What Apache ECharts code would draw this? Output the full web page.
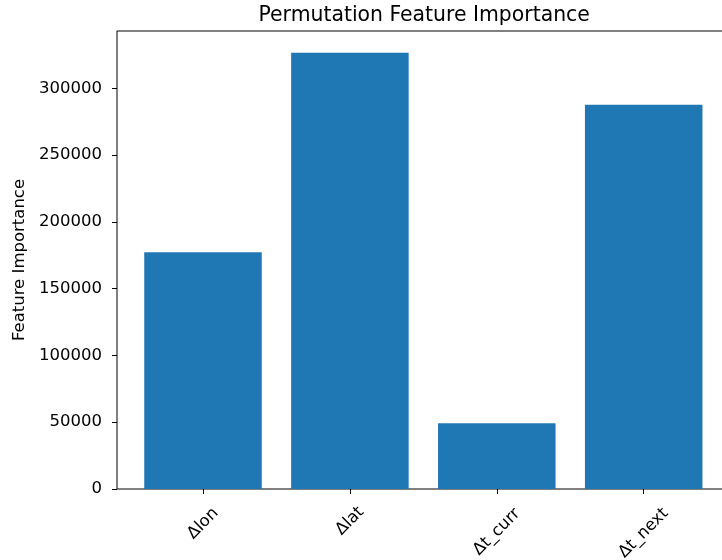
<!DOCTYPE html>
<html>
<head>
<meta charset="utf-8">
<title>Permutation Feature Importance</title>
<script src="https://cdn.jsdelivr.net/npm/echarts@6/dist/echarts.min.js"></script>
<style>
  html, body { margin: 0; padding: 0; background: #fff; }
  #chart { width: 722px; height: 560px; }
</style>
</head>
<body>
<div id="chart"></div>
<script>
// data
var features = ['Δlon', 'Δlat', 'Δt_curr', 'Δt_next'];
var importance = [177200, 326700, 49200, 287700];
var yTicks = [0, 50000, 100000, 150000, 200000, 250000, 300000];
var yMax = 342900;

// matplotlib centres rotated labels under the tick, so longer ones sit lower (px)
var labelDrop = [2.5, 0, 11, 12];

var font = 'DejaVu Sans';
var chart = echarts.init(document.getElementById('chart'));

// a thin empty first line pushes the text down along its own "down" direction,
// right padding pulls it back along the text, net effect is a straight drop
var rich = { t: { fontFamily: font, fontSize: 16.5, color: '#000' } };
var xData = [];
for (var i = 0; i < features.length; i++) {
  var k = labelDrop[i] * Math.SQRT2;
  rich['s' + i] = { fontSize: 1, lineHeight: k };
  xData.push({
    value: features[i],
    textStyle: { align: 'center', verticalAlign: 'middle', padding: [0, k, 0, 0] }
  });
}

chart.setOption({
  animation: false,
  title: {
    text: 'Permutation Feature Importance',
    left: 253.5,
    top: 1,
    textStyle: { fontFamily: font, fontSize: 20.4, fontWeight: 'normal', color: '#000' }
  },
  grid: [
    // frame (spines) + y axis
    { left: 117, top: 31, right: -9, bottom: 71, containLabel: false, outerBoundsMode: 'none',
      show: true, borderColor: '#000', borderWidth: 1, backgroundColor: 'transparent' },
    // bars
    { left: 129.55, top: 31, right: 4.85, bottom: 71, containLabel: false, outerBoundsMode: 'none' }
  ],
  xAxis: [
    { gridIndex: 0, type: 'value', show: false, min: 0, max: 1 },
    {
      gridIndex: 1,
      type: 'category',
      data: xData,
      boundaryGap: true,
      axisLine: { show: false },
      axisTick: { show: true, alignWithLabel: true, length: 5, lineStyle: { color: '#000', width: 1 } },
      axisLabel: {
        interval: 0,
        rotate: 45,
        margin: 32,
        fontFamily: font,
        fontSize: 16.5,
        color: '#000',
        rich: rich,
        formatter: function (value, index) {
          if (labelDrop[index] > 0) {
            return '{s' + index + '| }\n{t|' + value + '}';
          }
          return '{t|' + value + '}';
        }
      },
      splitLine: { show: false }
    }
  ],
  yAxis: [
    {
      gridIndex: 0,
      type: 'value',
      min: 0,
      max: yMax,
      name: 'Feature Importance',
      nameLocation: 'middle',
      nameGap: 86,
      nameTextStyle: { fontFamily: font, fontSize: 16.5, color: '#000' },
      axisLine: { show: false },
      axisTick: { show: true, length: 5, customValues: yTicks, lineStyle: { color: '#000', width: 1 } },
      axisLabel: {
        customValues: yTicks,
        margin: 15,
        fontFamily: font,
        fontSize: 16.5,
        color: '#000',
        formatter: function (v) { return String(v); }
      },
      splitLine: { show: false }
    },
    { gridIndex: 1, type: 'value', min: 0, max: yMax, show: false }
  ],
  series: [
    {
      type: 'bar',
      xAxisIndex: 1,
      yAxisIndex: 1,
      data: importance,
      barCategoryGap: '20%',
      itemStyle: { color: '#1f77b4' }
    }
  ]
});
</script>
</body>
</html>
